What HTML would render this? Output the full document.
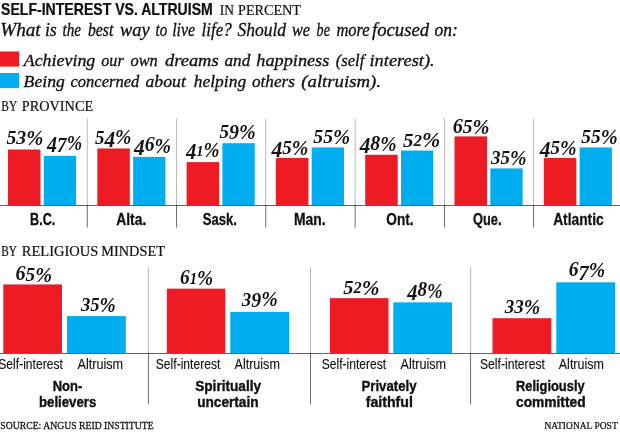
<!DOCTYPE html>
<html><head><meta charset="utf-8"><title>Self-interest vs. altruism</title>
<style>html,body{margin:0;padding:0;background:#fff}svg{display:block}</style></head>
<body>
<svg width="620" height="436" viewBox="0 0 620 436">
<rect width="620" height="436" fill="#fff"/>
<text transform="translate(1.10 14.8) scale(0.8580 1)" font-family="'Liberation Sans', sans-serif" font-size="16.4" font-weight="bold" stroke="#111" stroke-width="0.25" fill="#111">SELF-INTEREST VS. ALTRUISM</text>
<text transform="translate(219.80 15.3) scale(0.9685 1)" font-family="'Liberation Serif', serif" font-size="14" stroke="#111" stroke-width="0.2" fill="#111">IN</text>
<text transform="translate(238.00 15.3) scale(1.0132 1)" font-family="'Liberation Serif', serif" font-size="14" stroke="#111" stroke-width="0.2" fill="#111">PERCENT</text>
<text transform="translate(0.31 35.6) scale(0.9915 1)" font-family="'Liberation Serif', serif" font-size="19.3" font-style="italic" stroke="#111" stroke-width="0.33" fill="#111">What</text>
<text transform="translate(44.88 35.6) scale(0.9245 1)" font-family="'Liberation Serif', serif" font-size="19.3" font-style="italic" stroke="#111" stroke-width="0.33" fill="#111">is</text>
<text transform="translate(62.50 35.6) scale(0.7834 1)" font-family="'Liberation Serif', serif" font-size="19.3" font-style="italic" stroke="#111" stroke-width="0.33" fill="#111">the</text>
<text transform="translate(88.00 35.6) scale(0.8138 1)" font-family="'Liberation Serif', serif" font-size="19.3" font-style="italic" stroke="#111" stroke-width="0.33" fill="#111">best</text>
<text transform="translate(120.00 35.6) scale(0.9523 1)" font-family="'Liberation Serif', serif" font-size="19.3" font-style="italic" stroke="#111" stroke-width="0.33" fill="#111">way</text>
<text transform="translate(155.50 35.6) scale(0.7814 1)" font-family="'Liberation Serif', serif" font-size="19.3" font-style="italic" stroke="#111" stroke-width="0.33" fill="#111">to</text>
<text transform="translate(172.17 35.6) scale(0.8250 1)" font-family="'Liberation Serif', serif" font-size="19.3" font-style="italic" stroke="#111" stroke-width="0.33" fill="#111">live</text>
<text transform="translate(201.62 35.6) scale(0.8772 1)" font-family="'Liberation Serif', serif" font-size="19.3" font-style="italic" stroke="#111" stroke-width="0.33" fill="#111">life?</text>
<text transform="translate(237.50 35.6) scale(0.9051 1)" font-family="'Liberation Serif', serif" font-size="19.3" font-style="italic" stroke="#111" stroke-width="0.33" fill="#111">Should</text>
<text transform="translate(292.00 35.6) scale(0.8417 1)" font-family="'Liberation Serif', serif" font-size="19.3" font-style="italic" stroke="#111" stroke-width="0.33" fill="#111">we</text>
<text transform="translate(316.60 35.6) scale(0.7296 1)" font-family="'Liberation Serif', serif" font-size="19.3" font-style="italic" stroke="#111" stroke-width="0.33" fill="#111">be</text>
<text transform="translate(336.40 35.6) scale(0.8538 1)" font-family="'Liberation Serif', serif" font-size="19.3" font-style="italic" stroke="#111" stroke-width="0.33" fill="#111">more</text>
<text transform="translate(372.00 35.6) scale(0.9687 1)" font-family="'Liberation Serif', serif" font-size="19.3" font-style="italic" stroke="#111" stroke-width="0.33" fill="#111">focused</text>
<text transform="translate(434.60 35.6) scale(0.9060 1)" font-family="'Liberation Serif', serif" font-size="19.3" font-style="italic" stroke="#111" stroke-width="0.33" fill="#111">on:</text>
<rect x="0.00" y="51.50" width="19.10" height="15.10" fill="#ed1c24"/>
<rect x="0.00" y="73.00" width="19.10" height="15.10" fill="#00aeef"/>
<text transform="translate(23.72 66.2) scale(1.0176 1)" font-family="'Liberation Serif', serif" font-size="17.6" font-style="italic" stroke="#111" stroke-width="0.33" fill="#111">Achieving</text>
<text transform="translate(101.30 66.2) scale(0.9149 1)" font-family="'Liberation Serif', serif" font-size="17.6" font-style="italic" stroke="#111" stroke-width="0.33" fill="#111">our</text>
<text transform="translate(130.50 66.2) scale(0.9312 1)" font-family="'Liberation Serif', serif" font-size="17.6" font-style="italic" stroke="#111" stroke-width="0.33" fill="#111">own</text>
<text transform="translate(165.00 66.2) scale(1.0487 1)" font-family="'Liberation Serif', serif" font-size="17.6" font-style="italic" stroke="#111" stroke-width="0.33" fill="#111">dreams</text>
<text transform="translate(224.50 66.2) scale(0.9777 1)" font-family="'Liberation Serif', serif" font-size="17.6" font-style="italic" stroke="#111" stroke-width="0.33" fill="#111">and</text>
<text transform="translate(256.30 66.2) scale(1.0379 1)" font-family="'Liberation Serif', serif" font-size="17.6" font-style="italic" stroke="#111" stroke-width="0.33" fill="#111">happiness</text>
<text transform="translate(335.80 66.2) scale(0.9413 1)" font-family="'Liberation Serif', serif" font-size="17.6" font-style="italic" stroke="#111" stroke-width="0.33" fill="#111">(self</text>
<text transform="translate(369.50 66.2) scale(1.0446 1)" font-family="'Liberation Serif', serif" font-size="17.6" font-style="italic" stroke="#111" stroke-width="0.33" fill="#111">interest).</text>
<text transform="translate(23.60 86.5) scale(1.0039 1)" font-family="'Liberation Serif', serif" font-size="17.6" font-style="italic" stroke="#111" stroke-width="0.33" fill="#111">Being</text>
<text transform="translate(70.50 86.5) scale(0.9391 1)" font-family="'Liberation Serif', serif" font-size="17.6" font-style="italic" stroke="#111" stroke-width="0.33" fill="#111">concerned</text>
<text transform="translate(145.50 86.5) scale(1.0076 1)" font-family="'Liberation Serif', serif" font-size="17.6" font-style="italic" stroke="#111" stroke-width="0.33" fill="#111">about</text>
<text transform="translate(193.80 86.5) scale(0.9910 1)" font-family="'Liberation Serif', serif" font-size="17.6" font-style="italic" stroke="#111" stroke-width="0.33" fill="#111">helping</text>
<text transform="translate(252.00 86.5) scale(0.9742 1)" font-family="'Liberation Serif', serif" font-size="17.6" font-style="italic" stroke="#111" stroke-width="0.33" fill="#111">others</text>
<text transform="translate(301.30 86.5) scale(1.0658 1)" font-family="'Liberation Serif', serif" font-size="17.6" font-style="italic" stroke="#111" stroke-width="0.33" fill="#111">(altruism).</text>
<text transform="translate(1.30 111.4) scale(0.8119 1)" font-family="'Liberation Serif', serif" font-size="14" stroke="#111" stroke-width="0.2" fill="#111">BY</text>
<text transform="translate(21.80 111.4) scale(1.0208 1)" font-family="'Liberation Serif', serif" font-size="14" stroke="#111" stroke-width="0.2" fill="#111">PROVINCE</text>
<rect x="8.00" y="149.50" width="32.50" height="55.65" fill="#ed1c24"/>
<rect x="43.80" y="155.80" width="32.30" height="49.35" fill="#00aeef"/>
<text transform="translate(6.50 143.7) scale(0.9955 1)" font-family="'Liberation Serif', serif" font-size="17.2" font-style="italic" font-weight="bold" fill="#111"><tspan font-size="19.78" dy="0.3">5</tspan><tspan font-size="19.78" dy="0.2">3</tspan><tspan font-size="20.64" dy="0.7">%</tspan></text>
<text transform="translate(47.10 149.0) scale(0.8966 1)" font-family="'Liberation Serif', serif" font-size="17.2" font-style="italic" font-weight="bold" fill="#111"><tspan font-size="22.36" dy="3.3">4</tspan><tspan font-size="21.5" dy="0.1">7</tspan><tspan font-size="20.64" dy="-2.2">%</tspan></text>
<text transform="translate(30.08 224.5) scale(0.7686 1)" font-family="'Liberation Sans', sans-serif" font-size="16.4" font-weight="bold" stroke="#111" stroke-width="0.3" fill="#111">B.C.</text>
<rect x="97.30" y="148.45" width="32.50" height="56.70" fill="#ed1c24"/>
<rect x="133.10" y="156.85" width="32.30" height="48.30" fill="#00aeef"/>
<text transform="translate(95.00 143.2) scale(0.9537 1)" font-family="'Liberation Serif', serif" font-size="17.2" font-style="italic" font-weight="bold" fill="#111"><tspan font-size="19.78" dy="0.3">5</tspan><tspan font-size="22.36" dy="3.0">4</tspan><tspan font-size="20.64" dy="-2.1">%</tspan></text>
<text transform="translate(133.96 151.3) scale(0.9572 1)" font-family="'Liberation Serif', serif" font-size="17.2" font-style="italic" font-weight="bold" fill="#111"><tspan font-size="22.36" dy="3.3">4</tspan><tspan font-size="20.64" dy="-3.3">6</tspan><tspan font-size="20.64" dy="1.2">%</tspan></text>
<text transform="translate(116.15 224.5) scale(0.8494 1)" font-family="'Liberation Sans', sans-serif" font-size="16.4" font-weight="bold" stroke="#111" stroke-width="0.3" fill="#111">Alta.</text>
<rect x="86.80" y="118.50" width="0.80" height="86.60" fill="#a8a8a8"/>
<rect x="86.85" y="205.10" width="0.70" height="22.40" fill="#333"/>
<rect x="186.60" y="162.10" width="32.50" height="43.05" fill="#ed1c24"/>
<rect x="222.40" y="143.20" width="32.30" height="61.95" fill="#00aeef"/>
<text transform="translate(185.93 155.9) scale(0.9270 1)" font-family="'Liberation Serif', serif" font-size="17.2" font-style="italic" font-weight="bold" fill="#111"><tspan font-size="22.36" dy="3.3">4</tspan><tspan font-size="15.65" dy="-3.3">1</tspan><tspan font-size="20.64" dy="1.2">%</tspan></text>
<text transform="translate(219.50 137.7) scale(0.9679 1)" font-family="'Liberation Serif', serif" font-size="17.2" font-style="italic" font-weight="bold" fill="#111"><tspan font-size="19.78" dy="0.3">5</tspan><tspan font-size="20.64" dy="1.2">9</tspan><tspan font-size="20.64" dy="-0.3">%</tspan></text>
<text transform="translate(202.85 224.5) scale(0.7971 1)" font-family="'Liberation Sans', sans-serif" font-size="16.4" font-weight="bold" stroke="#111" stroke-width="0.3" fill="#111">Sask.</text>
<rect x="176.10" y="118.50" width="0.80" height="86.60" fill="#a8a8a8"/>
<rect x="176.15" y="205.10" width="0.70" height="22.40" fill="#333"/>
<rect x="275.90" y="157.90" width="32.50" height="47.25" fill="#ed1c24"/>
<rect x="311.70" y="147.40" width="32.30" height="57.75" fill="#00aeef"/>
<text transform="translate(271.46 153.5) scale(0.9600 1)" font-family="'Liberation Serif', serif" font-size="17.2" font-style="italic" font-weight="bold" fill="#111"><tspan font-size="22.36" dy="3.3">4</tspan><tspan font-size="19.78" dy="-3.0">5</tspan><tspan font-size="20.64" dy="0.9">%</tspan></text>
<text transform="translate(313.30 142.4) scale(0.9982 1)" font-family="'Liberation Serif', serif" font-size="17.2" font-style="italic" font-weight="bold" fill="#111"><tspan font-size="19.78" dy="0.3">5</tspan><tspan font-size="19.78" dy="0.0">5</tspan><tspan font-size="20.64" dy="0.9">%</tspan></text>
<text transform="translate(294.00 224.5) scale(0.8468 1)" font-family="'Liberation Sans', sans-serif" font-size="16.4" font-weight="bold" stroke="#111" stroke-width="0.3" fill="#111">Man.</text>
<rect x="265.40" y="118.50" width="0.80" height="86.60" fill="#a8a8a8"/>
<rect x="265.45" y="205.10" width="0.70" height="22.40" fill="#333"/>
<rect x="365.20" y="154.75" width="32.50" height="50.40" fill="#ed1c24"/>
<rect x="401.00" y="150.55" width="32.30" height="54.60" fill="#00aeef"/>
<text transform="translate(359.75 149.8) scale(0.9454 1)" font-family="'Liberation Serif', serif" font-size="17.2" font-style="italic" font-weight="bold" fill="#111"><tspan font-size="22.36" dy="3.3">4</tspan><tspan font-size="20.98" dy="-3.3">8</tspan><tspan font-size="20.64" dy="1.2">%</tspan></text>
<text transform="translate(403.00 146.2) scale(1.0607 1)" font-family="'Liberation Serif', serif" font-size="17.2" font-style="italic" font-weight="bold" fill="#111"><tspan font-size="19.78" dy="0.3">5</tspan><tspan font-size="16.0" dy="-0.3">2</tspan><tspan font-size="20.64" dy="1.2">%</tspan></text>
<text transform="translate(386.35 224.5) scale(0.8318 1)" font-family="'Liberation Sans', sans-serif" font-size="16.4" font-weight="bold" stroke="#111" stroke-width="0.3" fill="#111">Ont.</text>
<rect x="354.70" y="118.50" width="0.80" height="86.60" fill="#a8a8a8"/>
<rect x="354.75" y="205.10" width="0.70" height="22.40" fill="#333"/>
<rect x="454.50" y="136.40" width="32.50" height="68.75" fill="#ed1c24"/>
<rect x="490.30" y="168.40" width="32.30" height="36.75" fill="#00aeef"/>
<text transform="translate(452.70 132.6) scale(0.9840 1)" font-family="'Liberation Serif', serif" font-size="17.2" font-style="italic" font-weight="bold" fill="#111"><tspan font-size="20.64" dy="0.0">6</tspan><tspan font-size="19.78" dy="0.3">5</tspan><tspan font-size="20.64" dy="0.9">%</tspan></text>
<text transform="translate(490.96 163.4) scale(0.9612 1)" font-family="'Liberation Serif', serif" font-size="17.2" font-style="italic" font-weight="bold" fill="#111"><tspan font-size="19.78" dy="0.5">3</tspan><tspan font-size="19.78" dy="-0.2">5</tspan><tspan font-size="20.64" dy="0.9">%</tspan></text>
<text transform="translate(473.05 224.5) scale(0.7804 1)" font-family="'Liberation Sans', sans-serif" font-size="16.4" font-weight="bold" stroke="#111" stroke-width="0.3" fill="#111">Que.</text>
<rect x="444.00" y="118.50" width="0.80" height="86.60" fill="#a8a8a8"/>
<rect x="444.05" y="205.10" width="0.70" height="22.40" fill="#333"/>
<rect x="543.80" y="157.90" width="32.50" height="47.25" fill="#ed1c24"/>
<rect x="579.60" y="147.40" width="32.30" height="57.75" fill="#00aeef"/>
<text transform="translate(539.76 153.5) scale(0.9600 1)" font-family="'Liberation Serif', serif" font-size="17.2" font-style="italic" font-weight="bold" fill="#111"><tspan font-size="22.36" dy="3.3">4</tspan><tspan font-size="19.78" dy="-3.0">5</tspan><tspan font-size="20.64" dy="0.9">%</tspan></text>
<text transform="translate(581.30 142.4) scale(0.9846 1)" font-family="'Liberation Serif', serif" font-size="17.2" font-style="italic" font-weight="bold" fill="#111"><tspan font-size="19.78" dy="0.3">5</tspan><tspan font-size="19.78" dy="0.0">5</tspan><tspan font-size="20.64" dy="0.9">%</tspan></text>
<text transform="translate(553.15 224.5) scale(0.8418 1)" font-family="'Liberation Sans', sans-serif" font-size="16.4" font-weight="bold" stroke="#111" stroke-width="0.3" fill="#111">Atlantic</text>
<rect x="533.30" y="118.50" width="0.80" height="86.60" fill="#a8a8a8"/>
<rect x="533.35" y="205.10" width="0.70" height="22.40" fill="#333"/>
<rect x="0.00" y="205.15" width="620.00" height="0.65" fill="#111"/>
<text transform="translate(1.30 256.3) scale(0.8176 1)" font-family="'Liberation Serif', serif" font-size="13.8" stroke="#111" stroke-width="0.2" fill="#111">BY</text>
<text transform="translate(21.80 256.3) scale(1.0508 1)" font-family="'Liberation Serif', serif" font-size="13.8" stroke="#111" stroke-width="0.2" fill="#111">RELIGIOUS</text>
<text transform="translate(101.30 256.3) scale(1.0373 1)" font-family="'Liberation Serif', serif" font-size="13.8" stroke="#111" stroke-width="0.2" fill="#111">MINDSET</text>
<rect x="3.30" y="284.43" width="58.70" height="68.58" fill="#ed1c24"/>
<rect x="67.00" y="316.07" width="58.80" height="36.92" fill="#00aeef"/>
<text transform="translate(15.50 280.4) scale(0.9759 1)" font-family="'Liberation Serif', serif" font-size="17.2" font-style="italic" font-weight="bold" fill="#111"><tspan font-size="20.64" dy="0.0">6</tspan><tspan font-size="19.78" dy="0.3">5</tspan><tspan font-size="20.64" dy="0.9">%</tspan></text>
<text transform="translate(80.94 310.6) scale(0.9400 1)" font-family="'Liberation Serif', serif" font-size="17.2" font-style="italic" font-weight="bold" fill="#111"><tspan font-size="19.78" dy="0.5">3</tspan><tspan font-size="19.78" dy="-0.2">5</tspan><tspan font-size="20.64" dy="0.9">%</tspan></text>
<text transform="translate(-1.70 369.4) scale(0.8649 1)" font-family="'Liberation Sans', sans-serif" font-size="14.0" stroke="#111" stroke-width="0.12" fill="#111">Self-interest</text>
<text transform="translate(77.50 369.4) scale(0.9019 1)" font-family="'Liberation Sans', sans-serif" font-size="14.0" stroke="#111" stroke-width="0.12" fill="#111">Altruism</text>
<text transform="translate(52.70 391.2) scale(0.8767 1)" font-family="'Liberation Sans', sans-serif" font-size="14.8" font-weight="bold" stroke="#111" stroke-width="0.4" fill="#111">Non-</text>
<text transform="translate(39.00 407.4) scale(0.8931 1)" font-family="'Liberation Sans', sans-serif" font-size="14.8" font-weight="bold" stroke="#111" stroke-width="0.4" fill="#111">believers</text>
<rect x="166.80" y="288.64" width="58.50" height="64.35" fill="#ed1c24"/>
<rect x="230.30" y="311.86" width="59.00" height="41.14" fill="#00aeef"/>
<text transform="translate(180.00 283.6) scale(0.9393 1)" font-family="'Liberation Serif', serif" font-size="17.2" font-style="italic" font-weight="bold" fill="#111"><tspan font-size="20.64" dy="0.0">6</tspan><tspan font-size="15.65" dy="0.0">1</tspan><tspan font-size="20.64" dy="1.2">%</tspan></text>
<text transform="translate(241.76 305.2) scale(0.9609 1)" font-family="'Liberation Serif', serif" font-size="17.2" font-style="italic" font-weight="bold" fill="#111"><tspan font-size="19.78" dy="0.5">3</tspan><tspan font-size="20.64" dy="1.0">9</tspan><tspan font-size="20.64" dy="-0.3">%</tspan></text>
<text transform="translate(155.80 369.4) scale(0.8649 1)" font-family="'Liberation Sans', sans-serif" font-size="14.0" stroke="#111" stroke-width="0.12" fill="#111">Self-interest</text>
<text transform="translate(234.50 369.4) scale(0.8979 1)" font-family="'Liberation Sans', sans-serif" font-size="14.0" stroke="#111" stroke-width="0.12" fill="#111">Altruism</text>
<text transform="translate(195.20 391.2) scale(0.9211 1)" font-family="'Liberation Sans', sans-serif" font-size="14.8" font-weight="bold" stroke="#111" stroke-width="0.4" fill="#111">Spiritually</text>
<text transform="translate(197.20 407.4) scale(0.9224 1)" font-family="'Liberation Sans', sans-serif" font-size="14.8" font-weight="bold" stroke="#111" stroke-width="0.4" fill="#111">uncertain</text>
<rect x="330.00" y="298.14" width="58.50" height="54.86" fill="#ed1c24"/>
<rect x="393.30" y="302.36" width="58.70" height="50.64" fill="#00aeef"/>
<text transform="translate(343.30 293.4) scale(1.0320 1)" font-family="'Liberation Serif', serif" font-size="17.2" font-style="italic" font-weight="bold" fill="#111"><tspan font-size="19.78" dy="0.3">5</tspan><tspan font-size="16.0" dy="-0.3">2</tspan><tspan font-size="20.64" dy="1.2">%</tspan></text>
<text transform="translate(407.21 296.3) scale(0.9127 1)" font-family="'Liberation Serif', serif" font-size="17.2" font-style="italic" font-weight="bold" fill="#111"><tspan font-size="22.36" dy="3.3">4</tspan><tspan font-size="20.98" dy="-3.3">8</tspan><tspan font-size="20.64" dy="1.2">%</tspan></text>
<text transform="translate(321.80 369.4) scale(0.8622 1)" font-family="'Liberation Sans', sans-serif" font-size="14.0" stroke="#111" stroke-width="0.12" fill="#111">Self-interest</text>
<text transform="translate(400.50 369.4) scale(0.9019 1)" font-family="'Liberation Sans', sans-serif" font-size="14.0" stroke="#111" stroke-width="0.12" fill="#111">Altruism</text>
<text transform="translate(361.50 391.2) scale(0.8933 1)" font-family="'Liberation Sans', sans-serif" font-size="14.8" font-weight="bold" stroke="#111" stroke-width="0.4" fill="#111">Privately</text>
<text transform="translate(365.70 407.4) scale(0.9573 1)" font-family="'Liberation Sans', sans-serif" font-size="14.8" font-weight="bold" stroke="#111" stroke-width="0.4" fill="#111">faithful</text>
<rect x="492.50" y="318.19" width="58.80" height="34.81" fill="#ed1c24"/>
<rect x="556.30" y="282.31" width="58.70" height="70.69" fill="#00aeef"/>
<text transform="translate(504.76 312.9) scale(0.9585 1)" font-family="'Liberation Serif', serif" font-size="17.2" font-style="italic" font-weight="bold" fill="#111"><tspan font-size="19.78" dy="0.5">3</tspan><tspan font-size="19.78" dy="0.0">3</tspan><tspan font-size="20.64" dy="0.7">%</tspan></text>
<text transform="translate(568.80 276.2) scale(0.9511 1)" font-family="'Liberation Serif', serif" font-size="17.2" font-style="italic" font-weight="bold" fill="#111"><tspan font-size="20.64" dy="0.0">6</tspan><tspan font-size="21.5" dy="3.4">7</tspan><tspan font-size="20.64" dy="-2.2">%</tspan></text>
<text transform="translate(480.00 369.4) scale(0.8689 1)" font-family="'Liberation Sans', sans-serif" font-size="14.0" stroke="#111" stroke-width="0.12" fill="#111">Self-interest</text>
<text transform="translate(558.80 369.4) scale(0.8918 1)" font-family="'Liberation Sans', sans-serif" font-size="14.0" stroke="#111" stroke-width="0.12" fill="#111">Altruism</text>
<text transform="translate(516.00 391.2) scale(0.8695 1)" font-family="'Liberation Sans', sans-serif" font-size="14.8" font-weight="bold" stroke="#111" stroke-width="0.4" fill="#111">Religiously</text>
<text transform="translate(516.00 407.4) scale(0.9308 1)" font-family="'Liberation Sans', sans-serif" font-size="14.8" font-weight="bold" stroke="#111" stroke-width="0.4" fill="#111">committed</text>
<rect x="147.90" y="267.00" width="0.80" height="86.00" fill="#a8a8a8"/>
<rect x="147.95" y="353.00" width="0.70" height="51.50" fill="#333"/>
<rect x="310.10" y="267.00" width="0.80" height="86.00" fill="#a8a8a8"/>
<rect x="310.15" y="353.00" width="0.70" height="51.50" fill="#333"/>
<rect x="470.30" y="267.00" width="0.80" height="86.00" fill="#a8a8a8"/>
<rect x="470.35" y="353.00" width="0.70" height="51.50" fill="#333"/>
<rect x="0.00" y="353.05" width="620.00" height="0.65" fill="#111"/>
<text transform="translate(0.30 429.4) scale(0.9428 1)" font-family="'Liberation Serif', serif" font-size="10.3" stroke="#111" stroke-width="0.25" fill="#111">SOURCE: ANGUS REID INSTITUTE</text>
<text transform="translate(544.40 429.4) scale(0.9229 1)" font-family="'Liberation Serif', serif" font-size="10.3" stroke="#111" stroke-width="0.25" fill="#111">NATIONAL POST</text>
</svg>
</body></html>
